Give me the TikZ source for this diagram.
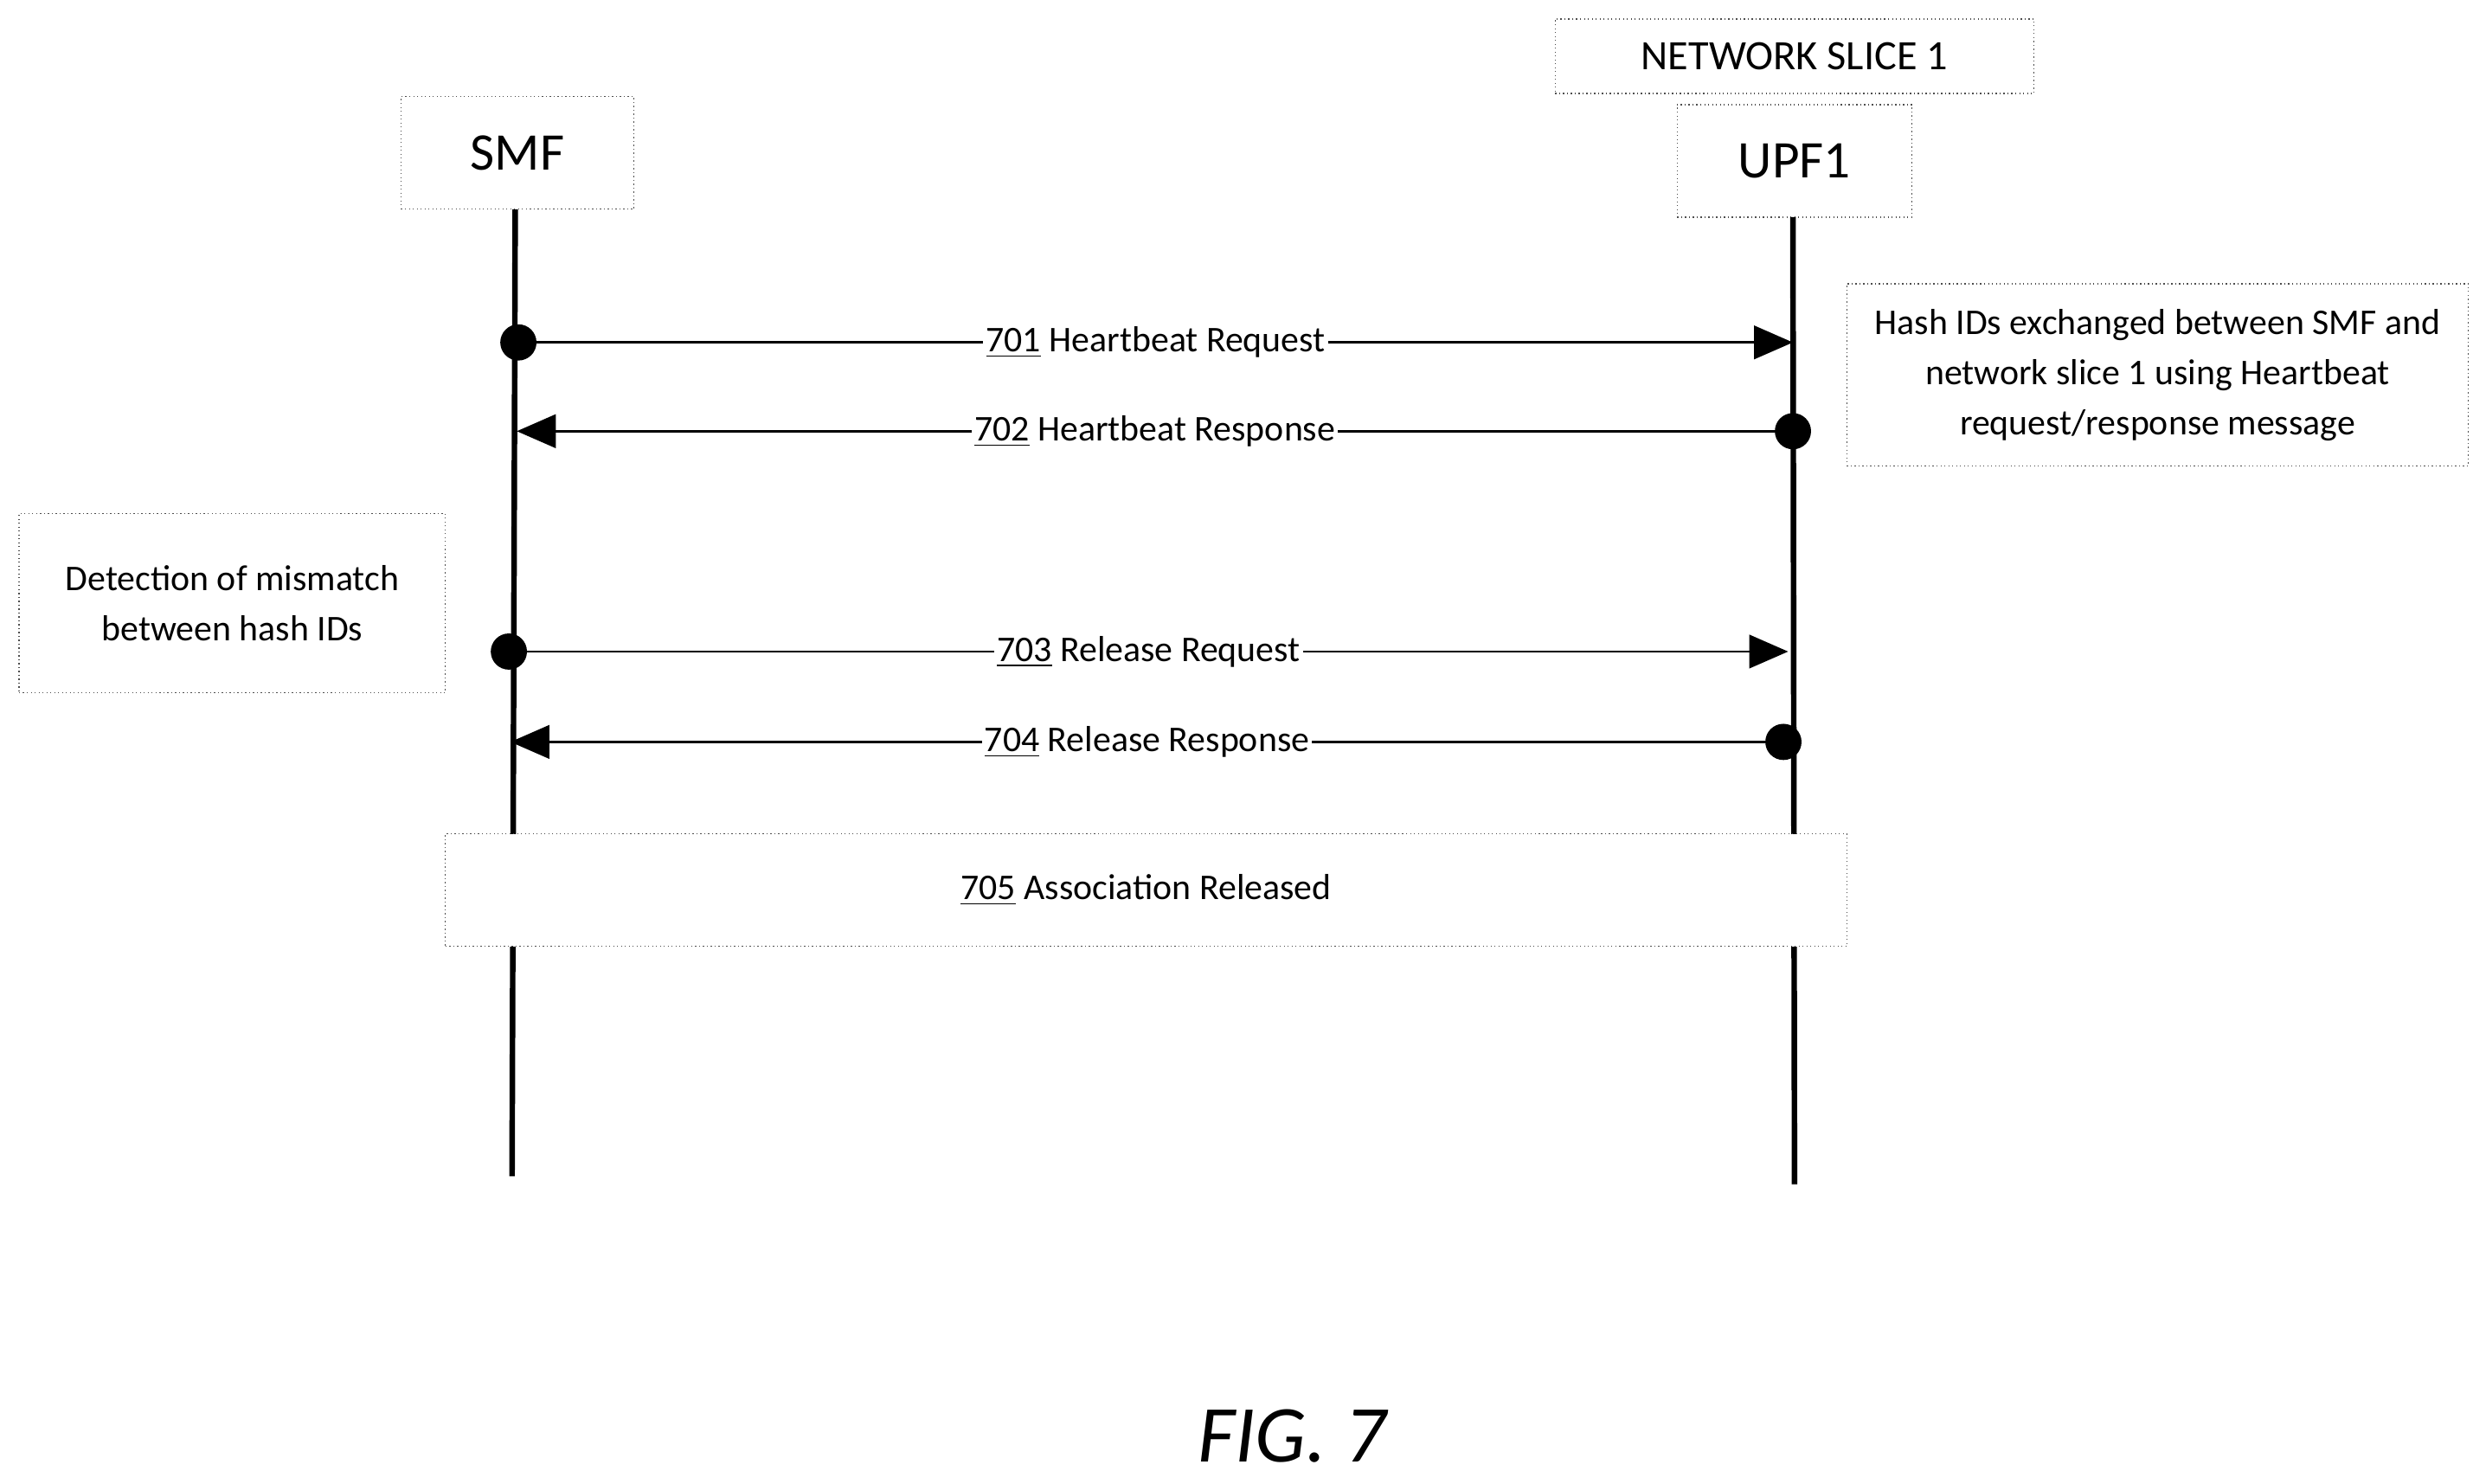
\documentclass[tikz,border=0pt]{standalone}
\usepackage{fontspec}
\setmainfont{Carlito}
\usetikzlibrary{arrows.meta}
\begin{document}
\begin{tikzpicture}[x=0.02cm,y=-0.02cm,
  box/.style={draw=black!70,densely dotted,thin,fill=white,inner sep=0pt,align=center},
  life/.style={line width=2pt},
  msg/.style={line width=0.9pt,-{Triangle[length=14pt,width=12pt]}},
  lbl/.style={fill=white,inner sep=1pt,font=\fontsize{13}{15}\selectfont},
  dot/.style={circle,fill=black,inner sep=0pt,minimum size=13pt}]
\useasboundingbox (0,0) rectangle (1560,936);
\node[box,minimum width=147*0.02cm,minimum height=71*0.02cm,font=\fontsize{19}{22}\selectfont] (smf) at (326.5,96.5) {SMF};
\node[box,minimum width=302*0.02cm,minimum height=47*0.02cm,font=\fontsize{15}{18}\selectfont] (ns) at (1132,35.5) {NETWORK SLICE 1};
\node[box,minimum width=148*0.02cm,minimum height=71*0.02cm,font=\fontsize{19}{22}\selectfont] (upf) at (1132,101.5) {UPF1};
\coordinate (s0) at (325,132); \coordinate (s1) at (323,742);
\coordinate (u0) at (1131,137); \coordinate (u1) at (1132,747);
\draw[life] (s0) -- (s1);
\draw[life] (u0) -- (u1);
\node[dot] (d1) at (327,216) {}; \coordinate (e1) at (1131,216);
\node[dot] (d2) at (1131,272) {}; \coordinate (e2) at (326,272);
\node[dot] (d3) at (321,411) {}; \coordinate (e3) at (1128,411);
\node[dot] (d4) at (1125,468) {}; \coordinate (e4) at (322,468);
\draw[msg] (d1.center) -- node[lbl]{\underline{701} Heartbeat Request} (e1);
\draw[msg] (d2.center) -- node[lbl]{\underline{702} Heartbeat Response} (e2);
\draw[msg] (d3.center) -- node[lbl]{\underline{703} Release Request} (e3);
\draw[msg] (d4.center) -- node[lbl]{\underline{704} Release Response} (e4);
\node[box,minimum width=392*0.02cm,minimum height=115*0.02cm,font=\fontsize{13}{18}\selectfont] (n1) at (1361,236.5) {Hash IDs exchanged between SMF and\\network slice 1 using Heartbeat\\request/response message};
\node[box,minimum width=269*0.02cm,minimum height=113*0.02cm,font=\fontsize{13}{18}\selectfont] (n2) at (146.5,380.5) {Detection of mismatch\\between hash IDs};
\node[box,minimum width=884*0.02cm,minimum height=71*0.02cm,font=\fontsize{13}{16}\selectfont] (a5) at (723,561.5) {\underline{705} Association Released};
\node[font=\fontsize{29}{32}\selectfont\itshape] (fig) at (815,906) {FIG. 7};
\end{tikzpicture}
\end{document}
